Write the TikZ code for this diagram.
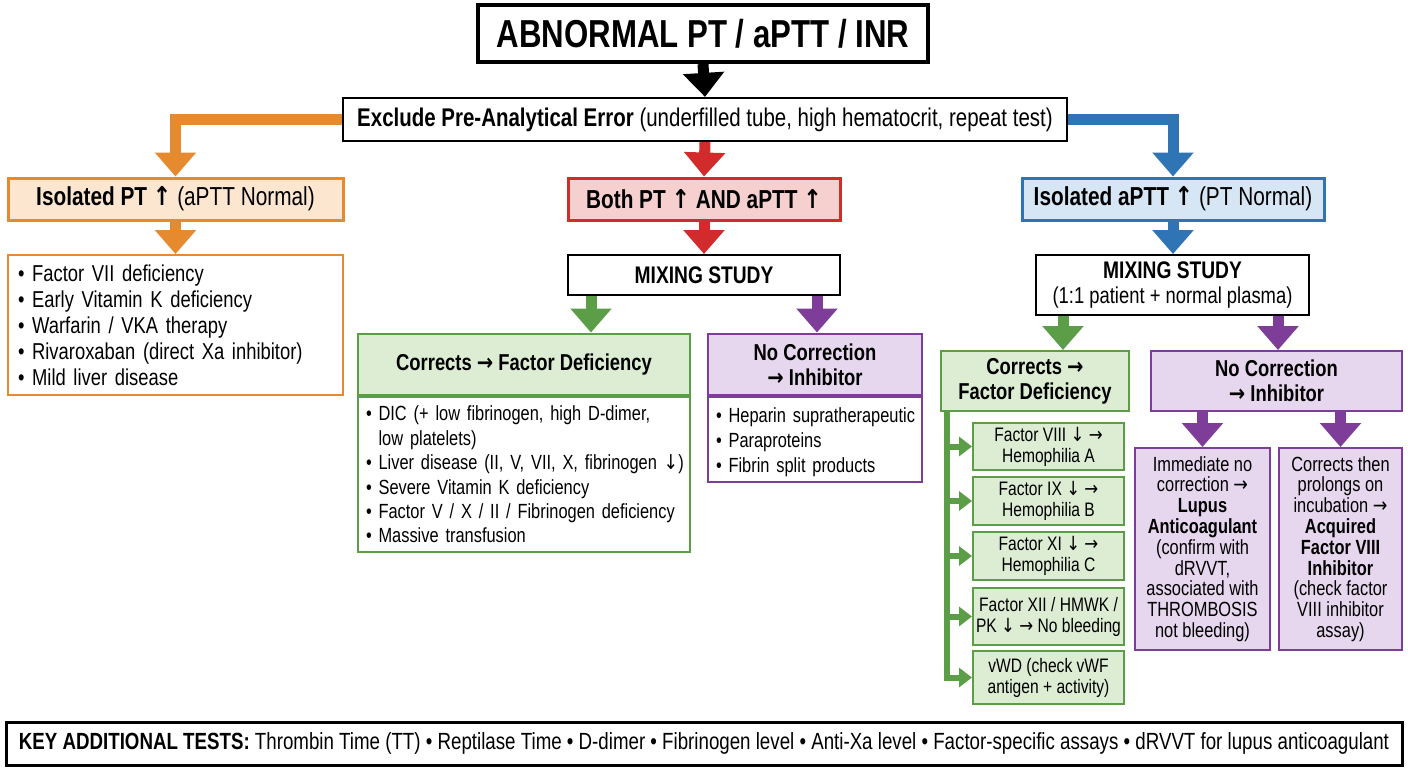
\documentclass[tikz,border=0pt]{standalone}
\usepackage{fontspec}
\setmainfont{Liberation Sans}[FakeStretch=0.8]
\newfontfamily\arrfont{DejaVu Sans}[FakeStretch=0.85]
\usetikzlibrary{arrows.meta}
\definecolor{cor}{HTML}{E58A2E}
\definecolor{forange}{HTML}{FCE6CF}
\definecolor{cred}{HTML}{D12B2B}
\definecolor{fred}{HTML}{F6CFCF}
\definecolor{cblue}{HTML}{2F74B5}
\definecolor{fblue}{HTML}{D7E6F4}
\definecolor{cgreen}{HTML}{5C9E48}
\definecolor{fgreen}{HTML}{DDEDD4}
\definecolor{cpurple}{HTML}{7E3D98}
\definecolor{fpurple}{HTML}{E6D7EE}
\newcommand\fsz[2]{\fontsize{#1}{#2}\selectfont}
\newcommand\bul{\textbullet\ }
\newcommand\hang{\hphantom{\textbullet\ }}
\newcommand\ua{{\arrfont ↑}}
\newcommand\da{{\arrfont ↓}}
\newcommand\ra{{\arrfont →}}
\newcommand\lst[1]{\raisebox{-3.5pt}[\height][\depth]{\begin{tabular}{@{}l@{}}#1\end{tabular}}}
\begin{document}
\begin{tikzpicture}[x=1pt,y=-1pt,
  box/.style={draw, inner sep=0pt, align=center, text=black},
  listbox/.style={draw, inner xsep=10pt, inner ysep=0pt, align=left, text=black},
  ar/.style={line width=11pt, line join=miter, -{Triangle[width=40pt,length=24pt]}},
  sar/.style={line width=6pt, -{Triangle[width=19pt,length=13pt]}},
  lvtwo/.style={box, line width=3pt, minimum height=42pt, font=\fsz{26}{28}},
  gh/.style={box, draw=cgreen, fill=fgreen, line width=2pt},
  ph/.style={box, draw=cpurple, fill=fpurple, line width=2pt},
  sub/.style={box, draw=cgreen, fill=fgreen, line width=2pt, minimum width=151pt, font=\fsz{19.5}{21}},
]
\useasboundingbox[fill=white] (0,0) rectangle (1408,768);

% top
\node[box, line width=4pt, minimum width=450pt, minimum height=57pt, font=\bfseries\fsz{39}{42}] (title) at (703,33.5) {ABNORMAL PT / aPTT / INR};
\node[box, line width=2.2pt, minimum width=724pt, minimum height=43pt, font=\fsz{25.6}{27}] (excl) at (705,119.5) {\textbf{Exclude Pre-Analytical Error} (underfilled tube, high hematocrit, repeat test)};

% level 2
\node[lvtwo, draw=cor, fill=forange, minimum width=335pt] (isopt) at (175.5,199) {\textbf{Isolated PT \ua} (aPTT Normal)};
\node[lvtwo, draw=cred, fill=fred, minimum width=272pt] (both) at (704,199) {\textbf{Both PT \ua\ AND aPTT \ua}};
\node[lvtwo, draw=cblue, fill=fblue, minimum width=302pt] (isaptt) at (1173,199) {\textbf{Isolated aPTT \ua} (PT Normal)};

% left column
\node[listbox, draw=cor, line width=2pt, text width=315pt, minimum height=140pt, font=\fsz{23}{26}] (olist) at (175.5,325)
  {\lst{\bul Factor VII deficiency\\ \bul Early Vitamin K deficiency\\ \bul Warfarin / VKA therapy\\ \bul Rivaroxaban (direct Xa inhibitor)\\ \bul Mild liver disease}};

% middle column
\node[box, line width=2pt, minimum width=272pt, minimum height=40pt, font=\bfseries\fsz{24}{26}] (mixa) at (704,275) {MIXING STUDY};
\node[gh, minimum width=332pt, minimum height=63pt, font=\bfseries\fsz{23}{25}] (gha) at (524,365) {Corrects \ra\ Factor Deficiency};
\node[listbox, draw=cgreen, line width=2pt, inner xsep=8pt, text width=316pt, minimum height=157pt, font=\fsz{20.5}{24.4}] (gba) at (524,473.5)
  {\lst{\bul DIC (+ low fibrinogen, high D-dimer,\\ \hang low platelets)\\ \bul Liver disease (II, V, VII, X, fibrinogen \da)\\ \bul Severe Vitamin K deficiency\\ \bul Factor V / X / II / Fibrinogen deficiency\\ \bul Massive transfusion}};
\node[ph, minimum width=214pt, minimum height=63pt, font=\bfseries\fsz{23}{24.5}] (pha) at (815,365) {No Correction\\ \ra\ Inhibitor};
\node[listbox, draw=cpurple, line width=2pt, inner xsep=8pt, text width=198pt, minimum height=87pt, font=\fsz{20.5}{25}] (pba) at (815,438.5)
  {\lst{\bul Heparin supratherapeutic\\ \bul Paraproteins\\ \bul Fibrin split products}};

% right column
\node[box, line width=2pt, minimum width=273pt, minimum height=60pt, font=\fsz{23}{25}] (mixb) at (1172.5,285) {\textbf{\fsz{24}{25}MIXING STUDY}\\ (1:1 patient + normal plasma)};
\node[gh, minimum width=188pt, minimum height=60pt, font=\bfseries\fsz{23}{25}] (ghb) at (1035,381) {Corrects \ra\\ Factor Deficiency};
\node[ph, minimum width=251pt, minimum height=60pt, font=\bfseries\fsz{23}{25}] (phb) at (1276.5,381) {No Correction\\ \ra\ Inhibitor};

\node[sub, minimum height=47pt] (f8) at (1048.5,446.5) {Factor VIII \da\ \ra\\ Hemophilia A};
\node[sub, minimum height=48pt] (f9) at (1048.5,501) {Factor IX \da\ \ra\\ Hemophilia B};
\node[sub, minimum height=48pt] (f11) at (1048.5,556) {Factor XI \da\ \ra\\ Hemophilia C};
\node[sub, minimum height=57pt] (f12) at (1048.5,616.5) {Factor XII / HMWK /\\ PK \da\ \ra\ No bleeding};
\node[sub, minimum height=53pt] (vwd) at (1048.5,677.5) {vWD (check vWF\\ antigen + activity)};

\node[ph, minimum width=135pt, minimum height=202pt, font=\fsz{20.5}{20.8}] (lupus) at (1202.5,549)
  {Immediate no\\ correction \ra\\ \textbf{Lupus}\\ \textbf{Anticoagulant}\\ (confirm with\\ dRVVT,\\ associated with\\ THROMBOSIS\\ not bleeding)};
\node[ph, minimum width=123pt, minimum height=202pt, font=\fsz{20.5}{20.8}] (acq) at (1340.5,549)
  {Corrects then\\ prolongs on\\ incubation \ra\\ \textbf{Acquired}\\ \textbf{Factor VIII}\\ \textbf{Inhibitor}\\ (check factor\\ VIII inhibitor\\ assay)};

% key
\node[box, line width=3pt, minimum width=1396pt, minimum height=43pt, font=\fsz{23.4}{25}] (key) at (704,743.5)
  {\textbf{KEY ADDITIONAL TESTS:} Thrombin Time (TT) • Reptilase Time • D-dimer • Fibrinogen level • Anti-Xa level • Factor-specific assays • dRVVT for lupus anticoagulant};

% connectors
\draw[ar, black] (title.south) -- (excl.north);
\draw[ar, cor] (excl.west) -| (isopt.north);
\draw[ar, cred] (excl.south) -- (both.north);
\draw[ar, cblue] (excl.east) -| (isaptt.north);
\draw[ar, cor] (isopt.south) -- (olist.north);
\draw[ar, cred] (both.south) -- (mixa.north);
\draw[ar, cblue] (isaptt.south) -- (isaptt.south |- mixb.north);
\draw[ar, cgreen] ([xshift=24pt]mixa.south west) -- ([xshift=24pt]mixa.south west |- gha.north);
\draw[ar, cpurple] ([xshift=-24pt]mixa.south east) -- ([xshift=-24pt]mixa.south east |- pha.north);
\draw[ar, cgreen] ([xshift=28pt]mixb.south west) -- ([xshift=28pt]mixb.south west |- ghb.north);
\draw[ar, cpurple] ([xshift=-32pt]mixb.south east) -- ([xshift=-32pt]mixb.south east |- phb.north);
\draw[ar, cpurple] (lupus.north |- phb.south) -- (lupus.north);
\draw[ar, cpurple] (acq.north |- phb.south) -- (acq.north);

\coordinate (sp) at (947,411);
\draw[cgreen, line width=6pt] (ghb.south -| sp) -- ([yshift=-3pt]vwd.west -| sp);
\foreach \n in {f8,f9,f11,f12,vwd}{
  \draw[sar, cgreen] (\n.west -| sp) -- (\n.west);
}
\end{tikzpicture}
\end{document}
